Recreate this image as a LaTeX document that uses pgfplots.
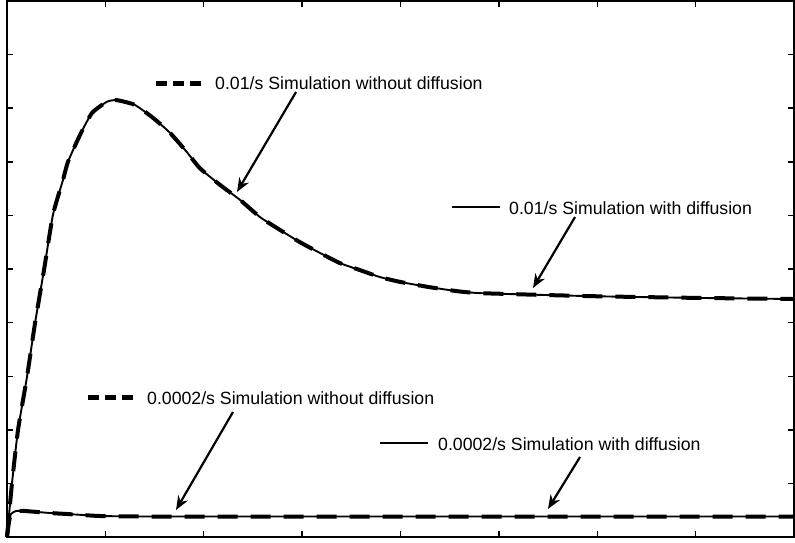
\documentclass[border=0pt]{standalone}
\usepackage{fontspec}
\setmainfont{Liberation Sans}
\usepackage{pgfplots}
\pgfplotsset{compat=1.18}
\usetikzlibrary{arrows.meta}

\tikzset{
    lbl/.style={anchor=base west, inner sep=0pt, font=\fontsize{17.7}{20}\selectfont},
    arr/.style={line width=2.2pt, -{Stealth[length=14pt,width=11pt]}},
}

\begin{document}
\begin{tikzpicture}
\begin{axis}[
    scale only axis,
    width=787pt, height=536pt,
    xmin=0, xmax=8, ymin=0, ymax=10,
    xtick={0,1,2,3,4,5,6,7,8},
    ytick={0,1,2,3,4,5,6,7,8,9,10},
    xticklabels={}, yticklabels={},
    tick align=inside,
    major tick length=6pt,
    axis line style={line width=1.4pt},
    every tick/.style={black, line width=1.4pt},
    clip=false,
]

% 0.01/s, with diffusion (solid)
\addplot[black, line width=1.9pt, smooth, tension=0.35] coordinates {
  (0,0) (0.051,1.007) (0.112,1.996) (0.203,2.985) (0.285,3.99) (0.376,4.98)
  (0.467,6.01) (0.569,6.66) (0.620,7.00) (0.742,7.50) (0.864,7.91) (1.016,8.12)
  (1.118,8.15) (1.30,8.06) (1.484,7.82) (1.657,7.54) (1.829,7.18) (1.961,6.88)
  (2.165,6.57) (2.368,6.29) (2.571,5.97) (2.774,5.73) (2.978,5.50) (3.181,5.30)
  (3.384,5.11) (3.587,4.98) (3.791,4.85) (3.994,4.76) (4.299,4.66) (4.604,4.58)
  (4.807,4.55) (5.366,4.52) (6.026,4.49) (7.043,4.46) (8.0,4.44)
};
% 0.01/s, without diffusion (dashed)
\addplot[black, line width=4pt, dash pattern=on 20pt off 13pt, smooth, tension=0.35] coordinates {
  (0,0) (0.051,1.007) (0.112,1.996) (0.203,2.985) (0.285,3.99) (0.376,4.98)
  (0.467,6.01) (0.569,6.66) (0.620,7.00) (0.742,7.50) (0.864,7.91) (1.016,8.12)
  (1.118,8.15) (1.30,8.06) (1.484,7.82) (1.657,7.54) (1.829,7.18) (1.961,6.88)
  (2.165,6.57) (2.368,6.29) (2.571,5.97) (2.774,5.73) (2.978,5.50) (3.181,5.30)
  (3.384,5.11) (3.587,4.98) (3.791,4.85) (3.994,4.76) (4.299,4.66) (4.604,4.58)
  (4.807,4.55) (5.366,4.52) (6.026,4.49) (7.043,4.46) (8.0,4.44)
};
% 0.0002/s, with diffusion (solid)
\addplot[black, line width=1.9pt, smooth, tension=0.3] coordinates {
  (0,0) (0.02,0.28) (0.041,0.43) (0.091,0.485) (0.183,0.485) (0.437,0.448)
  (0.691,0.42) (0.945,0.392) (1.454,0.382) (2.978,0.382) (8.0,0.382)
};
% 0.0002/s, without diffusion (dashed)
\addplot[black, line width=4pt, dash pattern=on 20pt off 13pt, smooth, tension=0.3] coordinates {
  (0,0) (0.02,0.28) (0.041,0.43) (0.091,0.485) (0.183,0.485) (0.437,0.448)
  (0.691,0.42) (0.945,0.392) (1.454,0.382) (2.978,0.382) (8.0,0.382)
};

% annotations
\draw[black, line width=5pt, dash pattern=on 11pt off 6pt] (axis cs:1.515,8.47) -- (axis cs:1.972,8.47);
\node[lbl] at (axis cs:2.114,8.340) {0.01/s Simulation without diffusion};
\draw[arr] (axis cs:2.938,8.302) -- (axis cs:2.338,6.437);

\draw[black, line width=1.8pt] (axis cs:4.523,6.157) -- (axis cs:5.011,6.157);
\node[lbl] at (axis cs:5.103,6.026) {0.01/s Simulation with diffusion};
\draw[arr] (axis cs:5.774,5.970) -- (axis cs:5.347,4.646);

\draw[black, line width=5pt, dash pattern=on 11pt off 6pt] (axis cs:0.823,2.612) -- (axis cs:1.281,2.612);
\node[lbl] at (axis cs:1.423,2.481) {0.0002/s Simulation without diffusion};
\draw[arr] (axis cs:2.297,2.332) -- (axis cs:1.718,0.504);

\draw[black, line width=1.8pt] (axis cs:3.792,1.754) -- (axis cs:4.280,1.754);
\node[lbl] at (axis cs:4.381,1.623) {0.0002/s Simulation with diffusion};
\draw[arr] (axis cs:5.825,1.493) -- (axis cs:5.499,0.522);

\coordinate (ll) at (rel axis cs:0,0);
\coordinate (ur) at (rel axis cs:1,1);
\end{axis}
\pgfresetboundingbox
\path[use as bounding box] ([shift={(-7pt,-5pt)}]ll) rectangle ([shift={(1pt,1pt)}]ur);
\end{tikzpicture}
\end{document}
